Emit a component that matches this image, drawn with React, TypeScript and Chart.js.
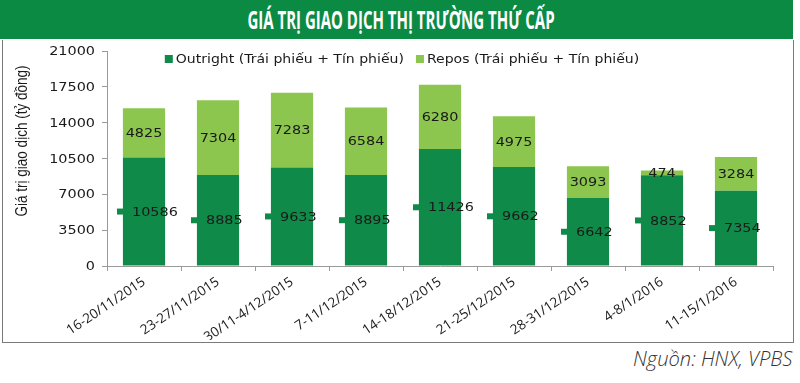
import React, { useEffect, useRef } from "react";
import { Chart, registerables } from "chart.js";

Chart.register(...registerables);

const categories = [
  "16-20/11/2015",
  "23-27/11/2015",
  "30/11-4/12/2015",
  "7-11/12/2015",
  "14-18/12/2015",
  "21-25/12/2015",
  "28-31/12/2015",
  "4-8/1/2016",
  "11-15/1/2016",
];
const outright = [10586, 8885, 9633, 8895, 11426, 9662, 6642, 8852, 7354];
const repos = [4825, 7304, 7283, 6584, 6280, 4975, 3093, 474, 3284];
const seriesLabels = ["Outright (Trái phiếu + Tín phiếu)", "Repos (Trái phiếu + Tín phiếu)"];
const yTicks = [0, 3500, 7000, 10500, 14000, 17500, 21000];
const titleText = "GIÁ TRỊ GIAO DỊCH THỊ TRƯỜNG THỨ CẤP";
const yTitle = "Giá trị giao dịch (tỷ đồng)";
const sourceText = "Nguồn: HNX, VPBS";

const DARK = "#108a48";
const LIGHT = "#8dc64f";
const BANNER = "#0b8a44";
const AXIS = "#9a9a9a";
const TEXT = "#1a1a1a";
const SX = 1.2;

function drawText(ctx: any, text: string, x: number, y: number, align: "left" | "center" | "right", sx: number) {
  const w = ctx.measureText(text).width * sx;
  let left = x;
  if (align === "center") left = x - w / 2;
  if (align === "right") left = x - w;
  ctx.save();
  ctx.translate(left, y);
  ctx.scale(sx, 1);
  ctx.textAlign = "left";
  ctx.fillText(text, 0, 0);
  ctx.restore();
}

const extrasPlugin = {
  id: "extras",
  afterDatasetsDraw(chart: any) {
    const ctx = chart.ctx;
    ctx.save();
    ctx.font = "12px 'DejaVu Sans'";
    ctx.textBaseline = "middle";
    const m0 = chart.getDatasetMeta(0);
    const m1 = chart.getDatasetMeta(1);
    m0.data.forEach((bar: any, i: number) => {
      const p = bar.getProps(["x", "y", "base"], true);
      const cy = (p.y + p.base) / 2;
      ctx.fillStyle = DARK;
      ctx.fillRect(p.x - 27, cy - 3, 6, 6);
      ctx.fillStyle = TEXT;
      drawText(ctx, String(outright[i]), p.x - 12, cy + 1, "left", SX);
    });
    m1.data.forEach((bar: any, i: number) => {
      const p = bar.getProps(["x", "y", "base"], true);
      const cy = (p.y + p.base) / 2;
      ctx.fillStyle = TEXT;
      drawText(ctx, String(repos[i]), p.x, cy + 1, "center", SX);
    });

    // y tick labels
    const ys = chart.scales.y;
    ctx.fillStyle = TEXT;
    yTicks.forEach((v) => {
      drawText(ctx, String(v), ys.right - 12, ys.getPixelForValue(v) + 1, "right", SX);
    });

    // y-axis title
    ctx.save();
    ctx.translate(22, 101);
    ctx.rotate(-Math.PI / 2);
    ctx.scale(1, 1.25);
    ctx.font = "13.5px 'Liberation Sans'";
    ctx.textAlign = "center";
    ctx.fillStyle = TEXT;
    ctx.fillText(yTitle, 0, 0);
    ctx.restore();

    // legend
    ctx.font = "12px 'DejaVu Sans'";
    const LSX = 1.17;
    const colors = [DARK, LIGHT];
    const box = 8;
    const gapBox = 3;
    const gapItem = 12;
    const widths = seriesLabels.map((t) => ctx.measureText(t).width * LSX);
    const total = widths.reduce((a, w) => a + box + gapBox + w, 0) + gapItem * (seriesLabels.length - 1);
    let x = chart.width / 2 + 2 - total / 2;
    const ly = 19;
    seriesLabels.forEach((t, i) => {
      ctx.fillStyle = colors[i];
      ctx.fillRect(x, ly - box / 2, box, box);
      x += box + gapBox;
      ctx.fillStyle = TEXT;
      drawText(ctx, t, x, ly + 1, "left", LSX);
      x += widths[i] + gapItem;
    });
    ctx.restore();
  },
};

export default function App() {
  const canvasRef = useRef<HTMLCanvasElement | null>(null);
  const titleRef = useRef<HTMLSpanElement | null>(null);
  const sourceRef = useRef<HTMLSpanElement | null>(null);

  useEffect(() => {
    document.body.style.margin = "0";
    if (titleRef.current) {
      const w = titleRef.current.offsetWidth;
      titleRef.current.style.transform = `translateX(-50%) scaleX(${307 / w})`;
    }
    if (sourceRef.current) {
      const w = sourceRef.current.offsetWidth;
      sourceRef.current.style.transform = `scaleX(${159 / w})`;
    }
    const canvas = canvasRef.current;
    if (!canvas) return;
    const chart = new Chart(canvas, {
      type: "bar",
      data: {
        labels: categories,
        datasets: [
          {
            label: seriesLabels[0],
            data: outright,
            backgroundColor: DARK,
            barPercentage: 0.57,
            categoryPercentage: 1,
          },
          {
            label: seriesLabels[1],
            data: repos,
            backgroundColor: LIGHT,
            barPercentage: 0.57,
            categoryPercentage: 1,
          },
        ],
      },
      options: {
        animation: false,
        responsive: false,
        maintainAspectRatio: false,
        layout: { padding: { left: 0, right: 27, top: 11, bottom: 0 } },
        plugins: {
          legend: { display: false },
          tooltip: { enabled: false },
        },
        scales: {
          x: {
            stacked: true,
            grid: {
              drawOnChartArea: false,
              drawTicks: true,
              tickLength: 5,
              color: AXIS,
              offset: true,
            },
            border: { display: true, color: AXIS, width: 1 },
            ticks: {
              autoSkip: false,
              minRotation: 34,
              maxRotation: 34,
              padding: 3,
              color: TEXT,
              font: { family: "'Open Sans'", size: 13.5 },
            },
            afterFit: (scale: any) => {
              scale.height = 74;
            },
          },
          y: {
            stacked: true,
            min: 0,
            max: 21000,
            grid: {
              drawOnChartArea: false,
              drawTicks: true,
              tickLength: 5,
              color: AXIS,
            },
            border: { display: true, color: AXIS, width: 1 },
            afterBuildTicks: (scale: any) => {
              scale.ticks = yTicks.map((v) => ({ value: v }));
            },
            ticks: {
              display: false,
            },
            afterFit: (scale: any) => {
              scale.width = 107;
            },
          },
        },
      },
      plugins: [extrasPlugin],
    });
    return () => chart.destroy();
  }, []);

  return (
    <div style={{ position: "relative", width: 800, height: 383, background: "#fff", overflow: "hidden" }}>
      <div
        style={{
          position: "absolute",
          left: 0,
          top: 0,
          width: 793,
          height: 39,
          background: BANNER,
        }}
      >
        <span
          ref={titleRef}
          style={{
            position: "absolute",
            left: 401,
            top: 2,
            whiteSpace: "nowrap",
            color: "#fff",
            fontFamily: "'Open Sans', sans-serif",
            fontWeight: 700,
            fontSize: 25,
            lineHeight: "34px",
            transformOrigin: "50% 50%",
            display: "inline-block",
          }}
        >
          {titleText}
        </span>
      </div>
      <div
        style={{
          position: "absolute",
          left: 2,
          top: 40,
          width: 792,
          height: 303,
          boxSizing: "border-box",
          borderLeft: "1.5px solid #7a7a7a",
          borderRight: "1.5px solid #7a7a7a",
          borderBottom: "1.5px solid #7a7a7a",
        }}
      />
      <canvas
        ref={canvasRef}
        width={800}
        height={300}
        style={{ position: "absolute", left: 0, top: 40, width: 800, height: 300 }}
      />
      <span
        ref={sourceRef}
        style={{
          position: "absolute",
          right: 8,
          top: 344,
          whiteSpace: "nowrap",
          color: "#333",
          fontFamily: "'Open Sans', sans-serif",
          fontStyle: "italic",
          fontWeight: 300,
          fontSize: 21,
          lineHeight: "28px",
          transformOrigin: "100% 50%",
          display: "inline-block",
        }}
      >
        {sourceText}
      </span>
    </div>
  );
}
